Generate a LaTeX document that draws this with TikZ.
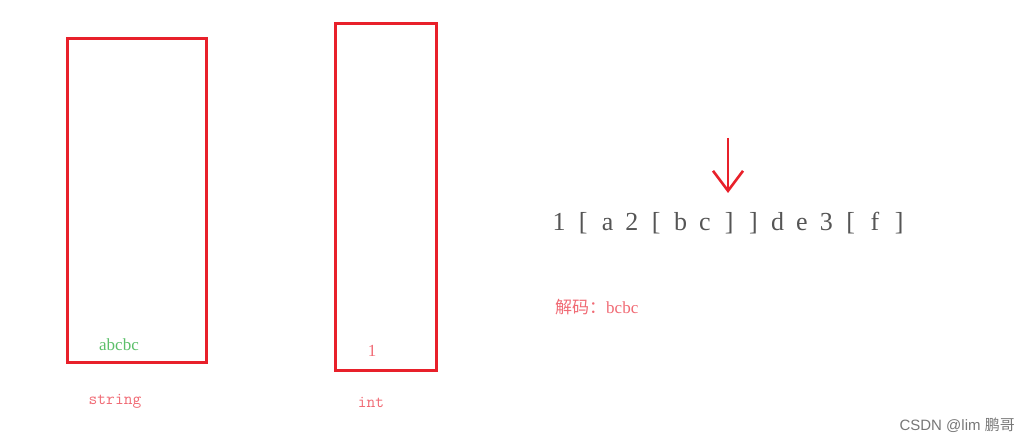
\documentclass[tikz,border=0pt]{standalone}
\usepackage{fontspec}
\setmainfont{Liberation Serif}
\newfontfamily\cjk{Noto Sans CJK SC}
\newfontfamily\sans{Liberation Sans}
\usetikzlibrary{arrows.meta}
\definecolor{boxred}{HTML}{E8202A}
\definecolor{pinktxt}{HTML}{F06A74}
\definecolor{greentxt}{HTML}{5CBF6A}
\definecolor{graytxt}{HTML}{555555}
\tikzset{
  stack/.style={draw=boxred, line width=3pt, fill=none},
  lbl/.style={text=pinktxt, font=\fontsize{17}{19}\selectfont, inner sep=0pt},
  seqch/.style={inner sep=0pt, text=graytxt, font=\fontsize{26}{28}\selectfont, anchor=base},
}
\begin{document}
\begin{tikzpicture}[x=1pt,y=-1pt]
\useasboundingbox (0,0) rectangle (1029,443);
\draw[stack] (67,39) rectangle (206,363);
\draw[stack] (335,24) rectangle (436,371);
\node[lbl, text=greentxt] (val1) at (119,345) {abcbc};
\node[lbl] (val2) at (372,351) {1};
\node[lbl, font=\ttfamily\fontsize{17}{19}\selectfont] (name1) at (115,401) {string};
\node[lbl, font=\ttfamily\fontsize{17}{19}\selectfont] (name2) at (371,402) {int};
\foreach \c [count=\i from 0] in {1,[,a,2,[,b,c,],],d,e,3,[,f,]} {
  \node[seqch] (s\i) at ({559+\i*24.3},231) {\c};
}
\coordinate (atop) at (728,138);
\coordinate (abot) at (728,193);
\draw[boxred, line width=2.6pt, -{Straight Barb[length=20pt,width=30pt]}] (atop) -- (abot);
\node[lbl, anchor=west] (dec) at (555,307) {{\cjk 解码：}bcbc};
\node[inner sep=0pt, text=graytxt!80, font=\sans\fontsize{15}{17}\selectfont, anchor=east] (wm) at (1015,425) {CSDN @lim {\cjk 鹏哥}};
\end{tikzpicture}
\end{document}
